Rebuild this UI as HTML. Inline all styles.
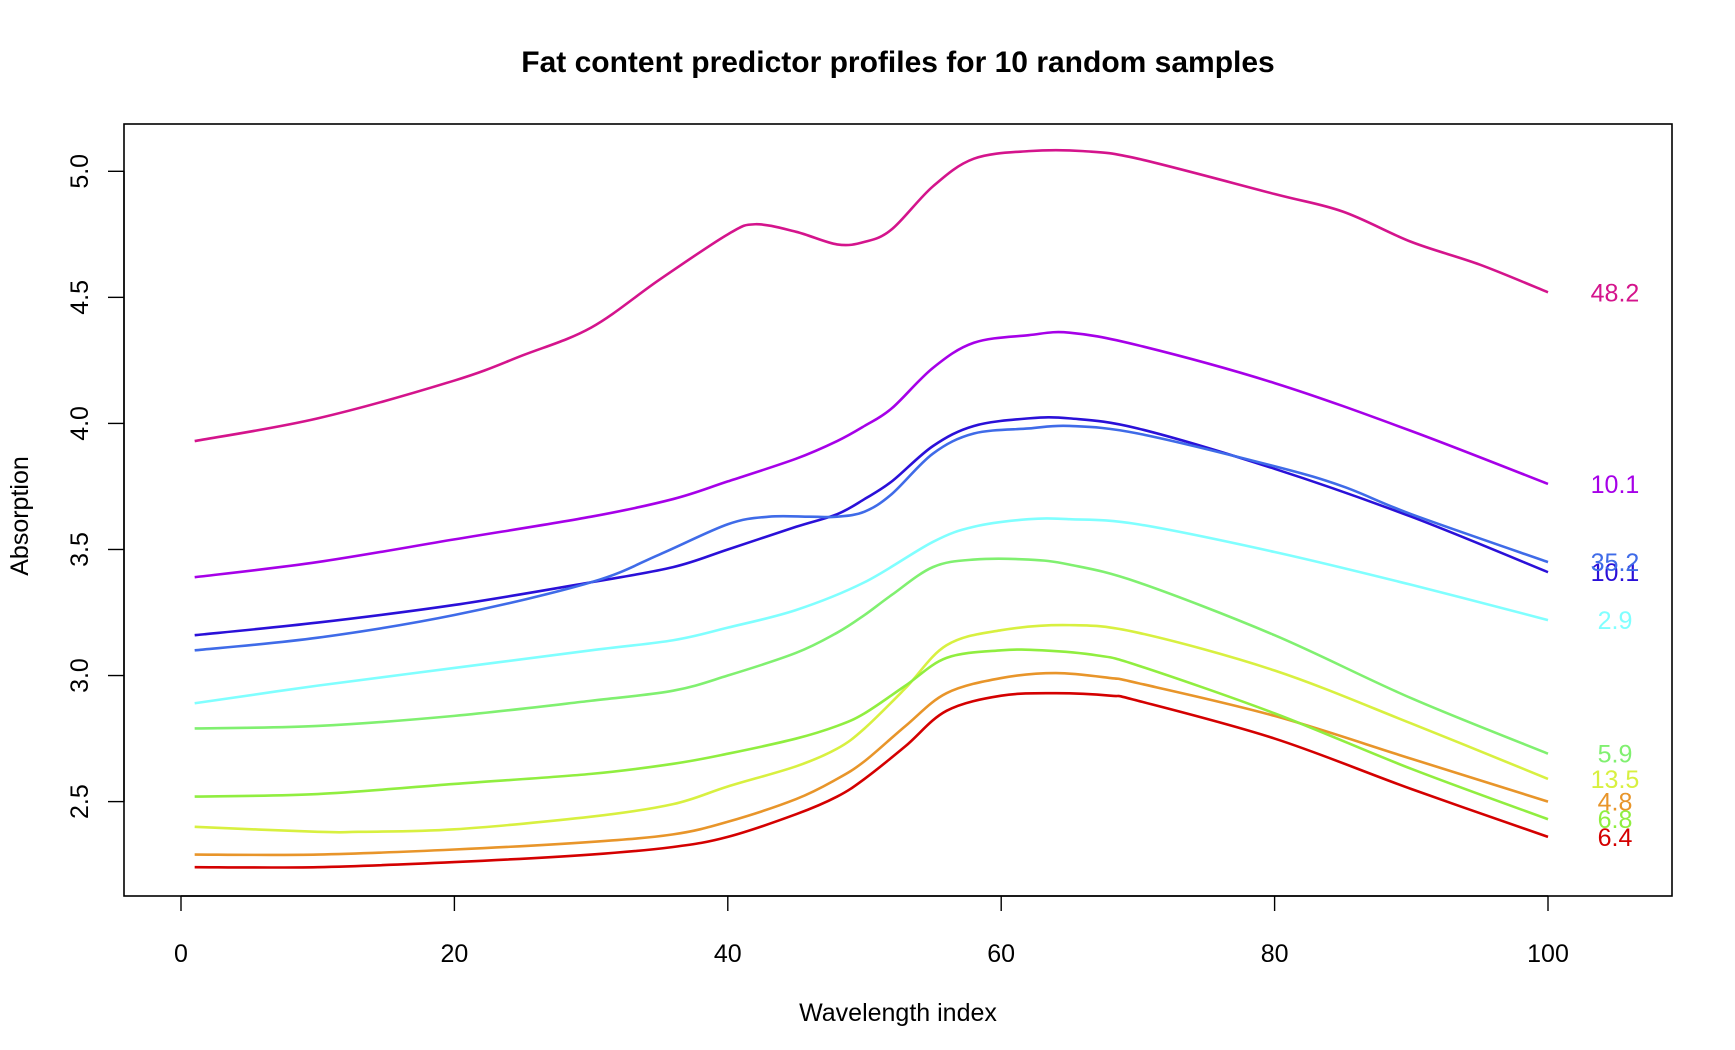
<!DOCTYPE html>
<html><head><meta charset="utf-8">
<style>
html,body{margin:0;padding:0;background:#fff;}
svg{display:block;font-family:"Liberation Sans",Arial,sans-serif;}
</style></head>
<body>
<svg id="chart" width="1735" height="1050" viewBox="0 0 1735 1050">
<text x="898" y="72" text-anchor="middle" font-size="30" font-weight="bold">Fat content predictor profiles for 10 random samples</text>
<rect x="124" y="124" width="1548" height="772" fill="none" stroke="#000" stroke-width="1.6"/>
<text x="898" y="1021" text-anchor="middle" font-size="25">Wavelength index</text>
<text transform="translate(28,516) rotate(-90)" text-anchor="middle" font-size="25">Absorption</text>
<g id="xaxis"></g>
<g id="yaxis"></g>
<g id="series"></g>
</svg>
<script>
const xTicks=[0,20,40,60,80,100];
const yTicks=[2.5,3.0,3.5,4.0,4.5,5.0];
const yTickLabels=["2.5","3.0","3.5","4.0","4.5","5.0"];
const labels=["48.2","10.1","35.2","10.1","2.9","5.9","6.8","13.5","4.8","6.4"];
const colors=["#D4148C","#A600E8","#3F6BE8","#2A10D8","#80FFFF","#80F070","#90EE40","#D8F040","#E8952A","#D40000"];
const xs0=[1,10,20,25,30,35,40,42,45,48,50,52,55,58,62,66,70,80,85,90,95,100];
const v0=[3.93,4.02,4.17,4.27,4.38,4.57,4.75,4.79,4.76,4.71,4.72,4.77,4.94,5.05,5.08,5.08,5.05,4.91,4.84,4.72,4.63,4.52];
const xs1=[1,10,20,30,36,40,45,48,50,52,55,58,62,65,70,80,90,100];
const v1=[3.39,3.45,3.54,3.63,3.70,3.77,3.86,3.93,3.99,4.06,4.22,4.32,4.35,4.36,4.31,4.16,3.97,3.76];
const xs2=[1,10,20,30,35,40,43,46,48,50,52,55,58,62,65,70,80,85,90,100];
const v2=[3.10,3.15,3.24,3.37,3.48,3.60,3.63,3.63,3.63,3.65,3.72,3.88,3.96,3.98,3.99,3.96,3.83,3.75,3.64,3.45];
const xs3=[1,10,20,30,36,40,45,48,50,52,55,58,62,65,70,80,90,100];
const v3=[3.16,3.21,3.28,3.37,3.43,3.50,3.59,3.64,3.70,3.77,3.91,3.99,4.02,4.02,3.98,3.82,3.63,3.41];
const xs4=[1,10,20,30,36,40,45,50,55,58,62,65,70,80,90,100];
const v4=[2.89,2.96,3.03,3.10,3.14,3.19,3.26,3.37,3.53,3.59,3.62,3.62,3.60,3.49,3.36,3.22];
const xs5=[1,10,20,30,36,40,45,48,50,52,55,58,62,65,70,80,90,100];
const v5=[2.79,2.80,2.84,2.90,2.94,3.00,3.09,3.17,3.24,3.32,3.43,3.46,3.46,3.44,3.37,3.16,2.91,2.69];
const xs6=[1,10,20,30,36,40,45,48,50,53,56,60,63,67,70,80,90,100];
const v6=[2.52,2.53,2.57,2.61,2.65,2.69,2.75,2.80,2.85,2.96,3.07,3.10,3.10,3.08,3.04,2.85,2.63,2.43];
const xs7=[1,10,13,20,30,36,40,45,48,50,53,56,60,65,70,80,90,100];
const v7=[2.40,2.38,2.38,2.39,2.44,2.49,2.56,2.64,2.71,2.79,2.95,3.12,3.18,3.20,3.17,3.02,2.81,2.59];
const xs8=[1,10,20,30,36,40,45,48,50,53,56,60,64,68,70,80,90,100];
const v8=[2.29,2.29,2.31,2.34,2.37,2.42,2.51,2.59,2.66,2.80,2.93,2.99,3.01,2.99,2.97,2.84,2.67,2.50];
const xs9=[1,10,20,30,36,40,45,48,50,53,56,60,64,68,70,80,90,100];
const v9=[2.24,2.24,2.26,2.29,2.32,2.36,2.45,2.52,2.59,2.72,2.86,2.92,2.93,2.92,2.90,2.75,2.55,2.36];
const seriesX=[xs0,xs1,xs2,xs3,xs4,xs5,xs6,xs7,xs8,xs9];
const seriesV=[v0,v1,v2,v3,v4,v5,v6,v7,v8,v9];
const labelX=104.9;

const NS="http://www.w3.org/2000/svg";
const X=v=>181+(v-0)*(1548-181)/100;
const Y=v=>801.6-(v-2.5)*(801.6-171.3)/2.5;
function mk(t,a,p){const e=document.createElementNS(NS,t);for(const k in a)e.setAttribute(k,a[k]);p.appendChild(e);return e;}
const xa=document.getElementById('xaxis'),ya=document.getElementById('yaxis'),sg=document.getElementById('series');
mk('line',{x1:X(xTicks[0]),x2:X(xTicks[xTicks.length-1]),y1:896,y2:896,stroke:'#000','stroke-width':1.4},xa);
xTicks.forEach(t=>{
  const l=mk('line',{x1:X(t),x2:X(t),y1:896,y2:911,stroke:'#000','stroke-width':1.4},xa);
  
  
  const tx=mk('text',{x:X(t),y:962,'text-anchor':'middle','font-size':25},xa);tx.textContent=t;
  
  
});
mk('line',{x1:124,x2:124,y1:Y(yTicks[0]),y2:Y(yTicks[yTicks.length-1]),stroke:'#000','stroke-width':1.4},ya);
yTicks.forEach((t,i)=>{
  const l=mk('line',{x1:108,x2:124,y1:Y(t),y2:Y(t),stroke:'#000','stroke-width':1.4},ya);
  
  
  const tx=mk('text',{transform:`translate(88,${Y(t)}) rotate(-90)`,'text-anchor':'middle','font-size':25},ya);tx.textContent=yTickLabels[i];
  
  
});
function path(xs,vs){
  const P=xs.map((x,i)=>[X(x),Y(vs[i])]);
  let d=`M${P[0][0]},${P[0][1]}`;
  for(let i=0;i<P.length-1;i++){
    const p0=P[Math.max(i-1,0)],p1=P[i],p2=P[i+1],p3=P[Math.min(i+2,P.length-1)];
    const c1=[p1[0]+(p2[0]-p0[0])/6,p1[1]+(p2[1]-p0[1])/6];
    const c2=[p2[0]-(p3[0]-p1[0])/6,p2[1]-(p3[1]-p1[1])/6];
    d+=`C${c1[0]},${c1[1]} ${c2[0]},${c2[1]} ${p2[0]},${p2[1]}`;
  }
  return d;
}
for(let s=seriesX.length-1;s>=0;s--){
  const p=mk('path',{d:path(seriesX[s],seriesV[s]),fill:'none',stroke:colors[s],'stroke-width':2.6},sg);
  
  
  const vs=seriesV[s];
  const t=mk('text',{x:X(labelX),y:Y(vs[vs.length-1])+9,'text-anchor':'middle','font-size':25,fill:colors[s]},sg);
  t.textContent=labels[s];
  
  
}
</script>
</body></html>
